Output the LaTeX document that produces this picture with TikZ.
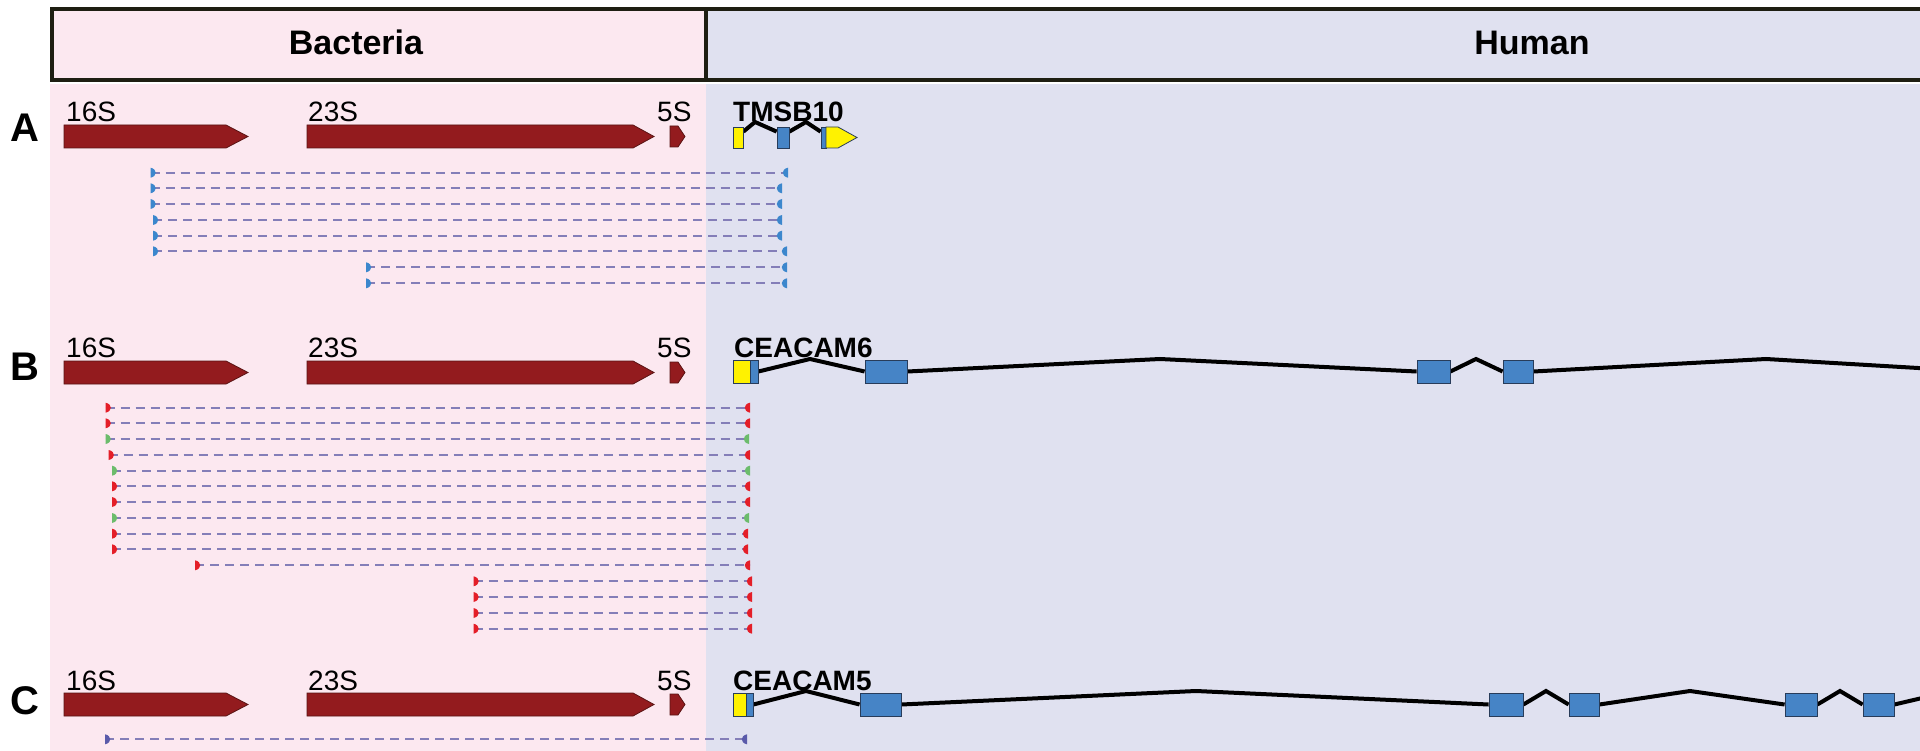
\documentclass[tikz,border=0pt]{standalone}
\usepackage{fontspec}
\setmainfont{Liberation Sans}
\usetikzlibrary{calc}
\pgfdeclarelayer{back}
\pgfdeclarelayer{mid}
\pgfsetlayers{back,mid,main}
\definecolor{pinkbg}{RGB}{252,232,240}
\definecolor{lavbg}{RGB}{224,225,240}
\definecolor{hdrline}{RGB}{30,30,18}
\definecolor{rrna}{RGB}{147,27,30}
\definecolor{rrnaedge}{RGB}{90,20,20}
\definecolor{exyel}{RGB}{255,242,0}
\definecolor{exblue}{RGB}{70,132,198}
\definecolor{exedge}{RGB}{40,60,90}
\definecolor{readc}{RGB}{132,126,184}
\definecolor{mkblue}{RGB}{60,135,205}
\definecolor{mkred}{RGB}{228,30,40}
\definecolor{mkgreen}{RGB}{108,188,108}
\definecolor{mkslate}{RGB}{90,90,170}
\newcommand{\myread}[6]{%
  \coordinate (#1a) at (#3,#2);
  \coordinate (#1b) at (#4,#2);
  \draw[readln] (#1a) -- (#1b);
  \fill[#5] ($(#1a)+(0,-5)$) .. controls +(7,1.5) and +(7,-1.5) .. ($(#1a)+(0,5)$) -- cycle;
  \fill[#6] ($(#1b)+(0,-5)$) .. controls +(-7,1.5) and +(-7,-1.5) .. ($(#1b)+(0,5)$) -- cycle;
}
\newcommand{\rrnarow}[2]{%
  \begin{scope}[shift={(0,#1)}]
    \draw[rgene] (64,125) -- (226,125) -- (248,136.5) -- (226,148) -- (64,148) -- cycle;
    \draw[rgene] (307,125) -- (633,125) -- (654,136.5) -- (633,148) -- (307,148) -- cycle;
    \draw[rgene] (670,126) -- (678,126) -- (685,136.5) -- (678,147) -- (670,147) -- cycle;
    \node[glabel] (#2s16) at (66,122) {16S};
    \node[glabel] (#2s23) at (308,122) {23S};
    \node[glabel] (#2s5) at (657,122) {5S};
  \end{scope}
}
\begin{document}
\begin{tikzpicture}[x=1pt,y=-1pt,
  hdrbox/.style={draw=hdrline,line width=4},
  rgene/.style={fill=rrna,draw=rrnaedge,line width=0.8},
  exonY/.style={rectangle,fill=exyel,draw=exedge,line width=0.8,inner sep=0,minimum height=23},
  exonB/.style={rectangle,fill=exblue,draw=exedge,line width=0.8,inner sep=0,minimum height=23},
  yarrow/.style={fill=exyel,draw=exedge,line width=0.8},
  intron/.style={draw=black,line width=4,line join=miter},
  readln/.style={draw=readc,line width=1.9,dash pattern=on 9pt off 6pt},
  glabel/.style={font=\fontsize{28}{30}\selectfont,anchor=base west,inner sep=0},
  gname/.style={font=\bfseries\fontsize{28}{30}\selectfont,anchor=base west,inner sep=0},
  rowlab/.style={font=\bfseries\fontsize{40}{44}\selectfont,anchor=base,inner sep=0},
  hdrtext/.style={font=\bfseries\fontsize{34}{38}\selectfont,anchor=base,inner sep=0},
]
\useasboundingbox (0,0) rectangle (1920,751);
\clip (0,0) rectangle (1920,751);

\begin{pgfonlayer}{back}
  \fill[white] (0,0) rectangle (1920,751);
  \fill[pinkbg] (50,84) rectangle (706,751);
  \fill[lavbg] (706,84) rectangle (1920,751);
  \fill[pinkbg] (52,9) rectangle (706,80);
  \fill[lavbg] (706,9) rectangle (1935,80);
\end{pgfonlayer}

% header
\draw[hdrbox] (52,9) rectangle (1935,80);
\draw[hdrbox] (706,9) -- (706,80);
\node[hdrtext] (bact) at (356,55) {Bacteria};
\node[hdrtext] (human) at (1532,55) {Human};

% row labels
\node[rowlab] (la) at (25,142) {A};
\node[rowlab] (lb) at (25,381) {B};
\node[rowlab] (lc) at (25,714) {C};

% rRNA operons
\rrnarow{0}{a}
\rrnarow{236}{b}
\rrnarow{568}{c}

% TMSB10
\node[gname] (tmsb) at (733,122) {TMSB10};
\node[exonY,minimum width=10,minimum height=21] (t1) at (738,137.5) {};
\node[exonB,minimum width=12,minimum height=21] (t2) at (783,137.5) {};
\node[exonB,minimum width=5,minimum height=21] (t3) at (823.5,137.5) {};
\draw[yarrow] (826,127) -- (838,127) -- (857,137.5) -- (838,148) -- (826,148) -- cycle;
\coordinate (tp1) at (755,122);
\coordinate (tp2) at (806,122);
\begin{pgfonlayer}{mid}
  \draw[intron] ([yshift=-5pt]t1.north east) -- (tp1) -- ([yshift=-5pt]t2.north west);
  \draw[intron] ([yshift=-5pt]t2.north east) -- (tp2) -- ([yshift=-5pt]t3.north west);
\end{pgfonlayer}

% CEACAM6
\node[gname] (c6name) at (734,358) {CEACAM6};
\node[exonY,minimum width=17] (b1) at (741.5,371.5) {};
\node[exonB,minimum width=8] (b1b) at (754,371.5) {};
\node[exonB,minimum width=42] (b2) at (886,371.5) {};
\node[exonB,minimum width=33] (b3) at (1433.5,371.5) {};
\node[exonB,minimum width=30] (b4) at (1518,371.5) {};
\coordinate (bp1) at (810,359);
\coordinate (bp2) at (1160,359);
\coordinate (bp3) at (1476,359);
\coordinate (bp4) at (1766,359);
\coordinate (bend) at (1935,369);
\begin{pgfonlayer}{mid}
  \draw[intron] (b1b.east) -- (bp1) -- (b2.west);
  \draw[intron] (b2.east) -- (bp2) -- (b3.west);
  \draw[intron] (b3.east) -- (bp3) -- (b4.west);
  \draw[intron] (b4.east) -- (bp4) -- (bend);
\end{pgfonlayer}

% CEACAM5
\node[gname] (c5name) at (733,690) {CEACAM5};
\node[exonY,minimum width=13] (c1) at (739.5,704.5) {};
\node[exonB,minimum width=7] (c1b) at (749.5,704.5) {};
\node[exonB,minimum width=41] (c2) at (880.5,704.5) {};
\node[exonB,minimum width=34] (c3) at (1506,704.5) {};
\node[exonB,minimum width=30] (c4) at (1584,704.5) {};
\node[exonB,minimum width=32] (c5) at (1801,704.5) {};
\node[exonB,minimum width=31] (c6) at (1878.5,704.5) {};
\coordinate (cp1) at (806,691);
\coordinate (cp2) at (1196,691);
\coordinate (cp3) at (1546,691);
\coordinate (cp4) at (1690,691);
\coordinate (cp5) at (1840,691);
\coordinate (cend) at (1935,695);
\begin{pgfonlayer}{mid}
  \draw[intron] (c1b.east) -- (cp1) -- (c2.west);
  \draw[intron] (c2.east) -- (cp2) -- (c3.west);
  \draw[intron] (c3.east) -- (cp3) -- (c4.west);
  \draw[intron] (c4.east) -- (cp4) -- (c5.west);
  \draw[intron] (c5.east) -- (cp5) -- (c6.west);
  \draw[intron] (c6.east) -- (cend);
\end{pgfonlayer}

% reads A
\myread{ra1}{172.7}{150.5}{788}{mkblue}{mkblue}
\myread{ra2}{188.3}{150.5}{782}{mkblue}{mkblue}
\myread{ra3}{204}{150.5}{782}{mkblue}{mkblue}
\myread{ra4}{220}{153}{782}{mkblue}{mkblue}
\myread{ra5}{235.7}{153}{782}{mkblue}{mkblue}
\myread{ra6}{251.3}{153}{787}{mkblue}{mkblue}
\myread{ra7}{267.3}{366}{787}{mkblue}{mkblue}
\myread{ra8}{283.3}{366}{787}{mkblue}{mkblue}

% reads B
\myread{rb1}{407.7}{105.6}{750}{mkred}{mkred}
\myread{rb2}{423.3}{105.6}{750}{mkred}{mkred}
\myread{rb3}{439}{105.6}{749}{mkgreen}{mkgreen}
\myread{rb4}{455}{108.7}{750}{mkred}{mkred}
\myread{rb5}{470.7}{112}{750}{mkgreen}{mkgreen}
\myread{rb6}{486.3}{112}{750}{mkred}{mkred}
\myread{rb7}{502}{112}{750}{mkred}{mkred}
\myread{rb8}{518}{112}{749}{mkgreen}{mkgreen}
\myread{rb9}{533.7}{112}{748}{mkred}{mkred}
\myread{rb10}{549.3}{112}{748}{mkred}{mkred}
\myread{rb11}{565.3}{195}{750}{mkred}{mkred}
\myread{rb12}{581.3}{473.5}{752}{mkred}{mkred}
\myread{rb13}{597}{473.5}{752}{mkred}{mkred}
\myread{rb14}{613}{473.5}{752}{mkred}{mkred}
\myread{rb15}{628.7}{473.5}{752}{mkred}{mkred}

% reads C
\myread{rc1}{739.3}{105}{747}{mkslate}{mkslate}
\end{tikzpicture}
\end{document}
